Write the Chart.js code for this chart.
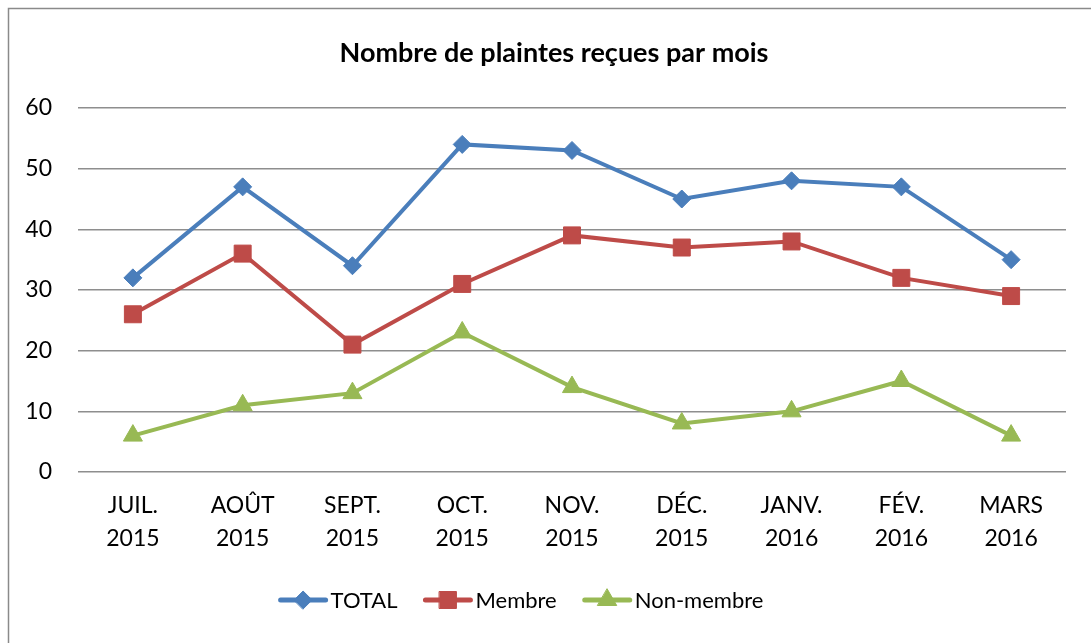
<!DOCTYPE html>
<html>
<head>
<meta charset="utf-8">
<script src="https://cdn.jsdelivr.net/npm/chart.js@4.4.1/dist/chart.umd.min.js"></script>
<style>
  html, body { margin: 0; padding: 0; background: #fff; }
  #wrap { width: 1091px; height: 643px; position: relative; }
</style>
</head>
<body>
<div id="wrap"><canvas id="c" width="1091" height="643"></canvas></div>
<script>
const titleText = 'Nombre de plaintes reçues par mois';
const categories = [
  ['JUIL.', '2015'], ['AOÛT', '2015'], ['SEPT.', '2015'], ['OCT.', '2015'],
  ['NOV.', '2015'], ['DÉC.', '2015'], ['JANV.', '2016'], ['FÉV.', '2016'], ['MARS', '2016']
];
const seriesNames = ['TOTAL', 'Membre', 'Non-membre'];
const totalValues = [32, 47, 34, 54, 53, 45, 48, 47, 35];
const membreValues = [26, 36, 21, 31, 39, 37, 38, 32, 29];
const nonMembreValues = [6, 11, 13, 23, 14, 8, 10, 15, 6];
const yTicks = [0, 10, 20, 30, 40, 50, 60];

const FONT = 'Lato, "Open Sans", sans-serif';
const colors = ['#4A7EBB', '#BE4B48', '#98B954'];
const styles = [
  { pointStyle: 'rectRot', radius: 9 },
  { pointStyle: 'rect', radius: 12 },
  { pointStyle: 'triangle', radius: 11 }
];
const allValues = [totalValues, membreValues, nonMembreValues];

const datasets = allValues.map((vals, i) => ({
  label: seriesNames[i],
  data: vals,
  borderColor: colors[i],
  backgroundColor: colors[i],
  pointBackgroundColor: colors[i],
  pointBorderColor: colors[i],
  pointBorderWidth: 1,
  borderWidth: 4,
  pointStyle: styles[i].pointStyle,
  pointRadius: styles[i].radius,
  pointHoverRadius: styles[i].radius,
  tension: 0,
  fill: false
}));

const frame = {
  id: 'frame',
  beforeDraw(chart) {
    const ctx = chart.ctx;
    ctx.save();
    ctx.strokeStyle = '#8a8a8a';
    ctx.lineWidth = 1.5;
    ctx.beginPath();
    ctx.moveTo(8.5, 700);
    ctx.lineTo(8.5, 8.5);
    ctx.lineTo(1200, 8.5);
    ctx.stroke();
    ctx.restore();
  }
};

const chartTitle = {
  id: 'chartTitle',
  afterDraw(chart) {
    const ctx = chart.ctx;
    ctx.save();
    ctx.font = 'bold 27px ' + FONT;
    ctx.fillStyle = '#000';
    ctx.textAlign = 'center';
    ctx.textBaseline = 'middle';
    ctx.fillText(titleText, 554, 53);
    ctx.restore();
  }
};

const customLegend = {
  id: 'customLegend',
  afterDraw(chart) {
    const ctx = chart.ctx;
    ctx.save();
    ctx.font = '22px ' + FONT;
    const lineLen = 49, gapText = 3, gapItem = 26, yc = 600;
    const widths = chart.data.datasets.map(d => ctx.measureText(d.label).width);
    let total = 0;
    widths.forEach((w, i) => { total += lineLen + gapText + w + (i ? gapItem : 0); });
    let x = 521 - total / 2;
    chart.data.datasets.forEach((d, i) => {
      ctx.strokeStyle = d.borderColor;
      ctx.lineWidth = 5;
      ctx.lineCap = 'round';
      ctx.beginPath();
      ctx.moveTo(x + 2, yc);
      ctx.lineTo(x + lineLen - 2, yc);
      ctx.stroke();
      ctx.fillStyle = d.borderColor;
      ctx.strokeStyle = d.borderColor;
      ctx.lineWidth = 1;
      Chart.helpers.drawPoint(ctx, { pointStyle: d.pointStyle, radius: d.pointRadius, rotation: 0, borderWidth: 1 }, x + lineLen / 2, yc);
      ctx.fillStyle = '#000';
      ctx.textBaseline = 'middle';
      ctx.textAlign = 'left';
      ctx.fillText(d.label, x + lineLen + gapText, yc + 1);
      x += lineLen + gapText + widths[i] + gapItem;
    });
    ctx.restore();
  }
};

new Chart(document.getElementById('c'), {
  type: 'line',
  data: { labels: categories, datasets },
  plugins: [frame, chartTitle, customLegend],
  options: {
    responsive: false,
    animation: false,
    devicePixelRatio: 1,
    layout: { padding: { left: 0, right: 25, top: 108, bottom: 0 } },
    plugins: {
      legend: { display: false },
      tooltip: { enabled: false },
      title: { display: false }
    },
    scales: {
      x: {
        offset: true,
        grid: { display: false, drawTicks: false },
        border: { display: false },
        ticks: { color: '#000', font: { family: FONT, size: 23, lineHeight: 1.45 }, padding: 17, maxRotation: 0, autoSkip: false },
        afterFit(scale) { scale.height = 171; }
      },
      y: {
        min: 0, max: 60,
        afterBuildTicks(scale) { scale.ticks = yTicks.map(v => ({ value: v })); },
        grid: { color: '#8e8e8e', lineWidth: 1.5, drawTicks: false },
        border: { display: false },
        ticks: { color: '#000', font: { family: FONT, size: 23 }, padding: 26 },
        afterFit(scale) { scale.width = 78; }
      }
    }
  }
});
</script>
</body>
</html>
